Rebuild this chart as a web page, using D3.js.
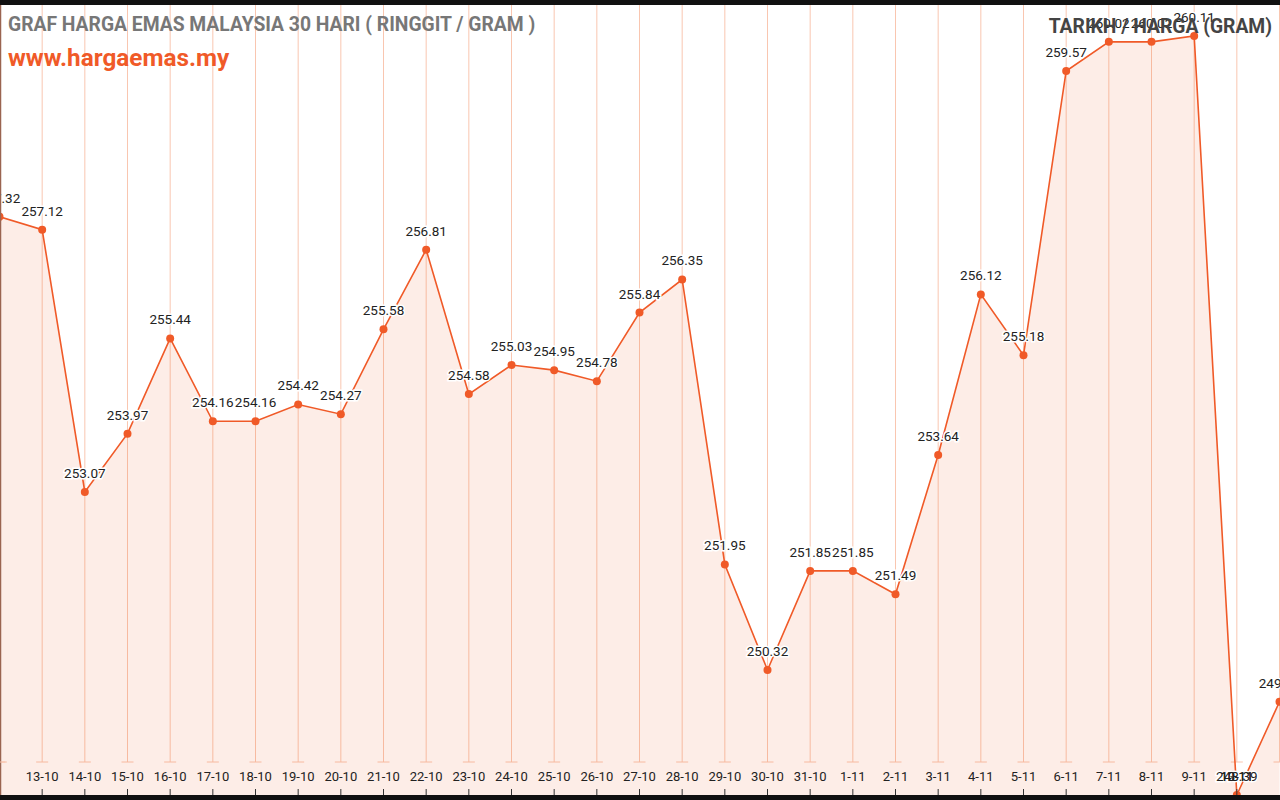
<!DOCTYPE html>
<html>
<head>
<meta charset="utf-8">
<script src="https://cdn.jsdelivr.net/npm/d3@7"></script>
<style>
  html, body { margin: 0; padding: 0; background: #111; }
  svg { display: block; font-family: Roboto, "Noto Sans", sans-serif; }
</style>
</head>
<body>
<svg id="chart" width="1280" height="800"></svg>
<script>
// 30 hari harga emas (RM / gram)
const dates = ["12-10","13-10","14-10","15-10","16-10","17-10","18-10","19-10","20-10","21-10",
  "22-10","23-10","24-10","25-10","26-10","27-10","28-10","29-10","30-10","31-10",
  "1-11","2-11","3-11","4-11","5-11","6-11","7-11","8-11","9-11","10-11","11-11"];
const prices = [257.32,257.12,253.07,253.97,255.44,254.16,254.16,254.42,254.27,255.58,
  256.81,254.58,255.03,254.95,254.78,255.84,256.35,251.95,250.32,251.85,
  251.85,251.49,253.64,256.12,255.18,259.57,260.02,260.02,260.11,248.39,249.83];
// labels that pile up at the last visible tick
const extraTickLabels = ["12-11","13-11"];

const W = 1280, H = 800;
const plotTop = 5, plotBottom = 795, gridEnd = 762;

const svg = d3.select("#chart");

const x = d3.scaleLinear().domain([0, dates.length - 1]).range([-0.5, 1279.5]);
const y = d3.scaleLinear().domain([250.32, 260.11]).range([670, 36]);

// background
svg.append("rect").attr("x", 0).attr("y", plotTop).attr("width", W).attr("height", plotBottom - plotTop)
  .attr("fill", "#fff");

// vertical grid with small caps
const grid = svg.append("g");
dates.forEach((d, i) => {
  grid.append("line").attr("x1", x(i)).attr("x2", x(i)).attr("y1", plotTop).attr("y2", gridEnd)
    .attr("stroke", "#f9c6b0").attr("stroke-width", 1);
  grid.append("line").attr("x1", x(i) - 6).attr("x2", x(i) + 6).attr("y1", gridEnd).attr("y2", gridEnd)
    .attr("stroke", "#f9c6b0").attr("stroke-width", 1);
});

// area + line
const area = d3.area().x((d, i) => x(i)).y0(plotBottom).y1(d => y(d));
const line = d3.line().x((d, i) => x(i)).y(d => y(d));

svg.append("path").datum(prices).attr("d", area).attr("fill", "#f05a28").attr("fill-opacity", 0.11);

svg.append("text").attr("x", 8).attr("y", 31).text("GRAF HARGA EMAS MALAYSIA 30 HARI ( RINGGIT / GRAM )")
  .attr("font-size", 19.3).attr("font-weight", "bold").attr("fill", "#777");
svg.append("text").attr("x", 8).attr("y", 66).text("www.hargaemas.my")
  .attr("font-size", 24.3).attr("font-weight", "bold").attr("fill", "#f05a28");

svg.append("path").datum(prices).attr("d", line).attr("fill", "none")
  .attr("stroke", "#f05a28").attr("stroke-width", 1.6);

svg.selectAll(".dot").data(prices).enter().append("circle")
  .attr("class", "dot").attr("cx", (d, i) => x(i)).attr("cy", d => y(d)).attr("r", 4)
  .attr("fill", "#f05a28");

// value labels with white halo
svg.selectAll(".val").data(prices).enter().append("text")
  .attr("class", "val").attr("x", (d, i) => x(i)).attr("y", d => y(d) - 14)
  .attr("text-anchor", "middle").attr("font-size", 13.5).attr("fill", "#222")
  .attr("stroke", "#fff").attr("stroke-width", 3).attr("paint-order", "stroke")
  .text(d => d.toFixed(2));

// legend title sits over the top labels
svg.append("text").attr("x", 1272).attr("y", 33).attr("text-anchor", "end").text("TARIKH / HARGA (GRAM)")
  .attr("font-size", 19.3).attr("font-weight", "bold").attr("fill", "#444");

// left edge line
svg.append("line").attr("x1", 0.5).attr("x2", 0.5).attr("y1", plotTop).attr("y2", plotBottom)
  .attr("stroke", "#9a6450").attr("stroke-width", 1.5);
svg.append("line").attr("x1", 0).attr("x2", 7).attr("y1", gridEnd).attr("y2", gridEnd)
  .attr("stroke", "#f9c6b0");

// x labels + ticks (first and last fall off the view)
const axisG = svg.append("g");
dates.forEach((d, i) => {
  if (i === 0 || i === dates.length - 1) return;
  axisG.append("text").attr("x", x(i)).attr("y", 781).attr("text-anchor", "middle")
    .attr("font-size", 13).attr("fill", "#222").text(d);
  axisG.append("line").attr("x1", x(i)).attr("x2", x(i)).attr("y1", 789).attr("y2", plotBottom)
    .attr("stroke", "#333").attr("stroke-width", 1);
});
extraTickLabels.forEach(d => {
  axisG.append("text").attr("x", x(dates.length - 2)).attr("y", 781).attr("text-anchor", "middle")
    .attr("font-size", 13).attr("fill", "#222").attr("fill-opacity", 0.7).text(d);
});

// black bands top/bottom
svg.append("rect").attr("x", 0).attr("y", 0).attr("width", W).attr("height", plotTop).attr("fill", "#111");
svg.append("rect").attr("x", 0).attr("y", plotBottom).attr("width", W).attr("height", H - plotBottom).attr("fill", "#111");
</script>
</body>
</html>
